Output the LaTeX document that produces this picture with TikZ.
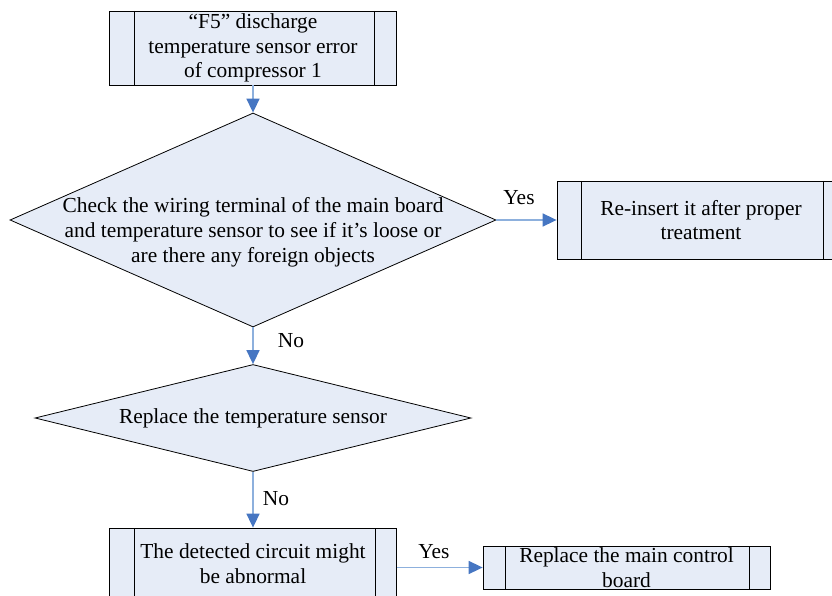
\documentclass[tikz,border=0pt]{standalone}
\usepackage{fontspec}
\setmainfont{Liberation Serif}
\usetikzlibrary{shapes.geometric,arrows.meta}
\definecolor{boxfill}{HTML}{E6ECF7}
\definecolor{lineblue}{HTML}{8DB0DD}
\definecolor{tipblue}{HTML}{4676C2}
\tikzset{
  proc/.style={draw=black, fill=boxfill, line width=0.8pt, inner sep=0pt},
  inner/.style={draw=black, line width=0.8pt},
  dia/.style={shape=diamond, draw=black, fill=boxfill, line width=0.8pt, inner sep=0pt},
  txt/.style={align=center, font=\fontsize{21.4}{24.8}\selectfont, inner sep=0pt},
  lbl/.style={font=\fontsize{21.4}{24}\selectfont, inner sep=0pt},
  flow/.style={draw=lineblue, line width=1.6pt, -{Triangle[width=13pt,length=14pt,color=tipblue]}}
}
\begin{document}
\begin{tikzpicture}[x=1pt,y=-1pt]
\useasboundingbox (0,0) rectangle (832,596);
\clip (0,0) rectangle (832,596);
% box 1
\node[proc, minimum width=287pt, minimum height=74pt] (b1) at (253,48) {};
\draw[inner] (134,11) -- (134,85) (374,11) -- (374,85);
\node[txt] (t1) at (b1) {“F5” discharge\\temperature sensor error\\of compressor 1};
% diamond 1
\node[dia, minimum width=486pt, minimum height=214pt] (d1) at (253,220) {};
\node[txt] (t2) at (253,232) {Check the wiring terminal of the main board\\and temperature sensor to see if it’s loose or\\are there any foreign objects};
% box 2
\node[proc, minimum width=288pt, minimum height=78pt] (b2) at (701,220) {};
\draw[inner] (581,181) -- (581,259) (823,181) -- (823,259);
\node[txt] (t3) at (b2) {Re-insert it after proper\\treatment};
% diamond 2
\node[dia, minimum width=436pt, minimum height=107pt] (d2) at (253,418) {};
\node[txt] (t4) at (d2) {Replace the temperature sensor};
% box 3
\node[proc, minimum width=287pt, minimum height=76pt] (b3) at (253,566) {};
\draw[inner] (134,528) -- (134,604) (375,528) -- (375,604);
\node[txt] (t5) at (253,564) {The detected circuit might\\be abnormal};
% box 4
\node[proc, minimum width=287pt, minimum height=43pt] (b4) at (626.5,567.5) {};
\draw[inner] (505,546) -- (505,589) (749,546) -- (749,589);
\node[txt] (t6) at (b4) {Replace the main control\\board};
% connectors
\draw[flow] (b1.south) -- (d1.north);
\draw[flow] (d1.east) -- (b2.west);
\draw[flow] (d1.south) -- (d2.north);
\draw[flow] (d2.south) -- (b3.north);
\draw[flow] (b3.east |- b4.west) -- (b4.west);
% labels
\node[lbl] (l1) at (519,198) {Yes};
\node[lbl] (l2) at (291,341) {No};
\node[lbl] (l3) at (276,499) {No};
\node[lbl] (l4) at (434,552) {Yes};
\end{tikzpicture}
\end{document}
